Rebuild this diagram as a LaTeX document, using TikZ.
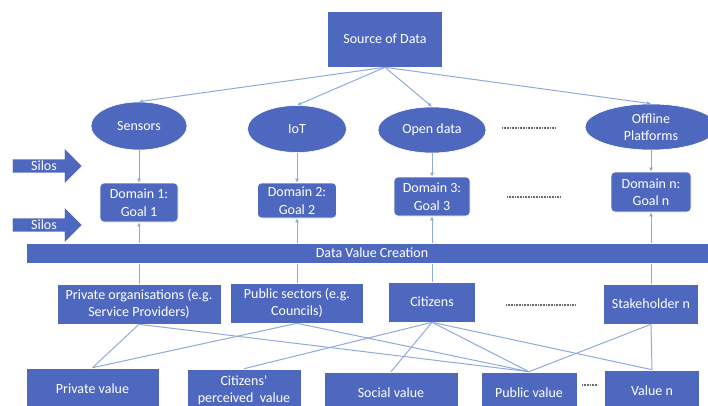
\documentclass[tikz,border=0pt]{standalone}
\usepackage{fontspec}
\setmainfont{Carlito}
\usetikzlibrary{shapes.geometric, shapes.arrows, arrows.meta}
\usepackage{xcolor}
\definecolor{blu}{RGB}{79,104,191}
\definecolor{azzurro}{RGB}{143,170,220}
\definecolor{grigio}{RGB}{105,105,105}

\tikzset{
    blocco/.style = {fill=blu, draw=white, line width=0.6pt, text=white, inner sep=0pt,
                     align=center, font=\fontsize{14}{17.5}\selectfont},
    ovale/.style = {blocco, ellipse},
    dominio/.style = {blocco, rounded corners=4pt},
    silo/.style = {blocco, single arrow, single arrow head extend=8.5pt,
                   minimum width=36pt, minimum height=70pt},
    linea/.style = {draw=azzurro, line width=1pt},
    freccia/.style = {linea, -{Latex[length=4pt,width=4pt]}},
    puntini/.style = {draw=grigio, line width=1.2pt, dash pattern=on 0.8pt off 0.8pt}
}

\begin{document}
\begin{tikzpicture}[x=1pt, y=-1pt]
    % Parametri
    \pgfmathsetmacro{\xa}{139}
    \pgfmathsetmacro{\xb}{297}
    \pgfmathsetmacro{\xc}{432}
    \pgfmathsetmacro{\xd}{651}
    % Cornice
    \clip (0,0) rectangle (708,406);

    % Sorgente
    \node[blocco, minimum width=115pt, minimum height=56pt] (fonte) at (385,39) {Source of Data};

    % Ovali
    \node[ovale, minimum width=96pt, minimum height=48pt] (sensori) at (\xa,126) {Sensors};
    \node[ovale, minimum width=99pt, minimum height=47pt] (iot) at (\xb,129) {IoT};
    \node[ovale, minimum width=108pt, minimum height=46pt] (aperti) at (\xc,130) {Open data};
    \node[ovale, minimum width=132pt, minimum height=46pt] (offline) at (\xd,127) {Offline\\Platforms};

    % Silos
    \node[silo] (siloA) at (44,166) {Silos};
    \node[silo] (siloB) at (44,225) {Silos};

    % Domini
    \node[dominio, minimum width=78pt, minimum height=39pt] (dom1) at (\xa,202.5) {Domain 1:\\Goal 1};
    \node[dominio, minimum width=79pt, minimum height=35pt] (dom2) at (\xb,200.5) {Domain 2:\\Goal 2};
    \node[dominio, minimum width=76pt, minimum height=39pt] (dom3) at (\xc,196.5) {Domain 3:\\Goal 3};
    \node[dominio, minimum width=80pt, minimum height=40pt] (domn) at (\xd,192) {Domain n:\\Goal n};

    % Portatori di interesse
    \node[blocco, minimum width=164pt, minimum height=40pt] (privati) at (\xa,304) {Private organisations (e.g.\\Service Providers)};
    \node[blocco, minimum width=133pt, minimum height=40pt] (pubblici) at (\xb,303) {Public sectors (e.g.\\Councils)};
    \node[blocco, minimum width=87pt, minimum height=40pt] (cittadini) at (\xc,302) {Citizens};
    \node[blocco, minimum width=95pt, minimum height=40pt] (stakn) at (\xd,304) {Stakeholder n};

    % Valori
    \node[blocco, minimum width=133pt, minimum height=42pt] (vprivato) at (92.5,389) {Private value};
    \node[blocco, minimum width=114pt, minimum height=42pt] (vpercepito) at (244,390) {Citizens’\\perceived~ value};
    \node[blocco, minimum width=134pt, minimum height=42pt] (vsociale) at (391,393) {Social value};
    \node[blocco, minimum width=96pt, minimum height=42pt] (vpubblico) at (529,393) {Public value};
    \node[blocco, minimum width=95pt, minimum height=42pt] (vn) at (652,391) {Value n};

    % Frecce dalla sorgente
    \draw[freccia] (fonte.south) -- (sensori.north);
    \draw[freccia] (fonte.south) -- (iot.north);
    \draw[freccia] (fonte.south) -- (aperti.north);
    \draw[freccia] (fonte.south) -- (offline.north);
    % Frecce verso i domini
    \draw[freccia] (sensori.south) -- (dom1.north);
    \draw[freccia] (iot.south) -- (dom2.north);
    \draw[freccia] (aperti.south) -- (dom3.north);
    \draw[freccia] (offline.south) -- (domn.north);
    \draw[freccia] (privati.north) -- (dom1.south);
    \draw[freccia] (pubblici.north) -- (dom2.south);
    \draw[freccia] (cittadini.north) -- (dom3.south);
    \draw[freccia] (stakn.north) -- (domn.south);

    % Collegamenti ai valori
    \draw[linea] (privati.south) -- (vprivato.north);
    \draw[linea] (privati.south) -- (vpubblico.north);
    \draw[linea] (pubblici.south) -- (vprivato.north);
    \draw[linea] (pubblici.south) -- (vpubblico.north);
    \draw[linea] (cittadini.south) -- (vpercepito.north);
    \draw[linea] (cittadini.south) -- (vsociale.north);
    \draw[linea] (cittadini.south) -- (vpubblico.north);
    \draw[linea] (cittadini.south) -- (vn.north);
    \draw[linea] (stakn.south) -- (vpubblico.north);
    \draw[linea] (stakn.south) -- (vn.north);

    % Barra
    \node[blocco, minimum width=692pt, minimum height=20pt] (barra) at (372,253) {Data Value Creation};

    % Puntini
    \draw[puntini] (502,128) -- (555,128);
    \draw[puntini] (507,197) -- (560,197);
    \draw[puntini] (506,305) -- (575,305);
    \draw[puntini] (582,385) -- (598,385);
\end{tikzpicture}
\end{document}
